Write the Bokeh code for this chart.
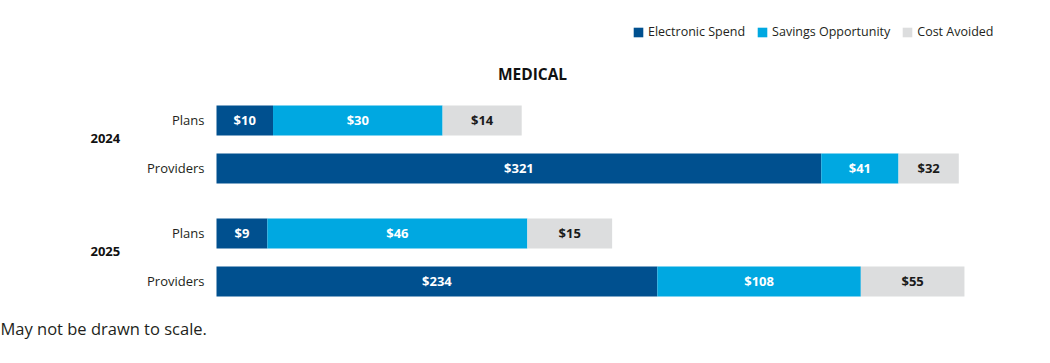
from bokeh.plotting import figure
from bokeh.models import ColumnDataSource, FactorRange, Range1d, Label, Legend, LegendItem
from bokeh.core.properties import value
from bokeh.transform import dodge
from bokeh.embed import file_html
from bokeh.resources import INLINE

# ---- data -------------------------------------------------------------
years = ["2024", "2024", "2025", "2025"]
rows = ["Plans", "Providers", "Plans", "Providers"]
electronic_spend = [10, 321, 9, 234]
savings_opportunity = [30, 41, 46, 108]
cost_avoided = [14, 32, 15, 55]
series_names = ["Electronic Spend", "Savings Opportunity", "Cost Avoided"]
group_labels = ["2024", "2025"]
title_text = "MEDICAL"
footnote_text = "May not be drawn to scale."
# Plans rows are drawn at 3x their dollar value (chart is "not drawn to scale")
row_scale = {"Plans": 3, "Providers": 1}

# ---- style ------------------------------------------------------------
colors = ["#00508F", "#00A8E1", "#DCDDDE"]
label_colors = ["#FFFFFF", "#FFFFFF", "#1A1A1A"]
FONT = "Open Sans"
TXT = "#231F20"

W, H = 1040, 345
PX_PER_UNIT = 1.884
BAR_LEFT_PX = 216
Y_PAD = 1.4167      # range padding (category units) each side
Y_SHIFT = -0.583    # shift of the bar block inside the frame (category units)

cats = list(zip(years, rows))
y_range = FactorRange(factors=cats[::-1], factor_padding=0.0, group_padding=0.354,
                      range_padding=Y_PAD, range_padding_units="absolute")
x_range = Range1d(-BAR_LEFT_PX / PX_PER_UNIT, (W - BAR_LEFT_PX) / PX_PER_UNIT)

p = figure(width=W, height=H, x_range=x_range, y_range=y_range,
           output_backend="svg", toolbar_location=None,
           x_axis_location=None, y_axis_location=None,
           min_border=0, title=None)
p.outline_line_color = None
p.grid.visible = False
p.background_fill_color = "white"
p.border_fill_color = "white"

Y = dodge("y", Y_SHIFT, range=y_range)

series = [electronic_spend, savings_opportunity, cost_avoided]
scales = [row_scale[r] for r in rows]
left = [0.0] * len(cats)
items = []
for name, vals, col, lcol in zip(series_names, series, colors, label_colors):
    right = [l + v * s for l, v, s in zip(left, vals, scales)]
    src = ColumnDataSource(dict(
        y=cats, left=left, right=right,
        mid=[(a + b) / 2 for a, b in zip(left, right)],
        lab=["$%d" % v for v in vals]))
    r = p.hbar(y=Y, left="left", right="right", height=0.625, source=src,
               fill_color=col, line_color=None)
    p.text(x="mid", y=Y, text="lab", source=src, text_align="center",
           text_baseline="middle", text_font=value(FONT), text_font_style="bold",
           text_font_size="13px", text_color=lcol)
    items.append(LegendItem(label=name, renderers=[r]))
    left = right

# row labels
row_src = ColumnDataSource(dict(y=cats, x=[0] * len(cats), t=rows))
p.text(x="x", y=Y, text="t", source=row_src, x_offset=-12, text_align="right",
       text_baseline="middle", text_font=value(FONT), text_font_size="13px",
       text_color=TXT)
# group (year) labels
grp_src = ColumnDataSource(dict(y=group_labels, x=[0] * len(group_labels), t=group_labels))
p.text(x="x", y=Y, text="t", source=grp_src, x_offset=-126, y_offset=-6,
       text_align="left", text_baseline="middle", text_font=value(FONT),
       text_font_style="bold", text_font_size="13px", text_color="#111111")

legend = Legend(items=items, location=(632, 305), orientation="horizontal",
                glyph_width=12, glyph_height=12, label_standoff=4, spacing=11,
                padding=0, margin=0, label_height=12,
                label_text_font=FONT, label_text_font_size="12.5px",
                label_text_color=TXT, label_text_baseline="middle",
                border_line_color=None, background_fill_alpha=0)
p.add_layout(legend)

p.add_layout(Label(x=532, y=H - 73.5, x_units="screen", y_units="screen", text=title_text,
                   text_align="center", text_baseline="middle", text_font=FONT,
                   text_font_style="bold", text_font_size="15.5px", text_color="#111111"))
p.add_layout(Label(x=0, y=H - 328, x_units="screen", y_units="screen", text=footnote_text,
                   text_align="left", text_baseline="middle", text_font=FONT,
                   text_font_size="16.5px", text_color=TXT))

open("out.html", "w").write(file_html(p, INLINE))
